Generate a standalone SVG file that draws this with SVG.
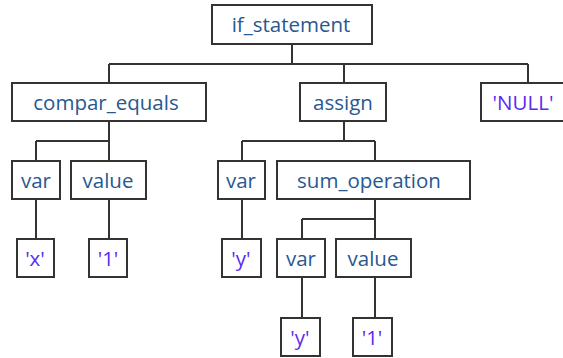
<svg xmlns="http://www.w3.org/2000/svg" width="563" height="358" viewBox="0 0 563 358">
  <style>
    .box { fill: #ffffff; stroke: #333333; stroke-width: 2; }
    .wire { fill: none; stroke: #333333; stroke-width: 2; }
    .lbl { font-family: "Open Sans", "Noto Sans", "DejaVu Sans", sans-serif; font-size: 20.5px; text-anchor: middle; fill: #285890; }
    .lit { fill: #5b2bf0; }
  </style>
  <rect x="0" y="0" width="563" height="358" fill="#ffffff"/>

  <!-- tree edges -->
  <g id="connectors">
    <path class="wire" d="M292,44 V64 M109,64 H528 M109,64 V83 M344,64 V83 M528,64 V83"/>
    <path class="wire" d="M109,121 V141 M36,141 H109 M36,141 V161 M109,141 V161"/>
    <path class="wire" d="M344,121 V141 M242,141 H375 M242,141 V161 M375,141 V161"/>
    <path class="wire" d="M36,199 V239 M109,199 V239 M242,199 V239"/>
    <path class="wire" d="M375,199 V219 M302,219 H375 M302,219 V239 M375,219 V239"/>
    <path class="wire" d="M302,277 V318 M375,277 V318"/>
  </g>

  <!-- level 0 -->
  <g id="if_statement">
    <rect class="box" x="212" y="5" width="160" height="39"/>
    <text class="lbl" x="291" y="32">if_statement</text>
  </g>

  <!-- level 1 -->
  <g id="compar_equals">
    <rect class="box" x="12" y="83" width="194" height="38"/>
    <text class="lbl" x="106" y="110">compar_equals</text>
  </g>
  <g id="assign">
    <rect class="box" x="300" y="83" width="86" height="38"/>
    <text class="lbl" x="343" y="110">assign</text>
  </g>
  <g id="null_literal">
    <rect class="box" x="481" y="83" width="94" height="38"/>
    <text class="lbl lit" x="523" y="110">'NULL'</text>
  </g>

  <!-- level 2 -->
  <g id="var_left">
    <rect class="box" x="12" y="161" width="48" height="38"/>
    <text class="lbl" x="36" y="188">var</text>
  </g>
  <g id="value_left">
    <rect class="box" x="71" y="161" width="75" height="38"/>
    <text class="lbl" x="108" y="188">value</text>
  </g>
  <g id="var_assign">
    <rect class="box" x="218" y="161" width="47" height="38"/>
    <text class="lbl" x="241" y="188">var</text>
  </g>
  <g id="sum_operation">
    <rect class="box" x="277" y="161" width="193" height="38"/>
    <text class="lbl" x="369" y="188">sum_operation</text>
  </g>

  <!-- level 3 -->
  <g id="lit_x">
    <rect class="box" x="17" y="239" width="37" height="38"/>
    <text class="lbl lit" x="35" y="266">'x'</text>
  </g>
  <g id="lit_1_left">
    <rect class="box" x="89" y="239" width="38" height="38"/>
    <text class="lbl lit" x="108" y="266">'1'</text>
  </g>
  <g id="lit_y_assign">
    <rect class="box" x="222" y="239" width="39" height="38"/>
    <text class="lbl lit" x="241" y="266">'y'</text>
  </g>
  <g id="var_sum">
    <rect class="box" x="277" y="239" width="48" height="38"/>
    <text class="lbl" x="301" y="266">var</text>
  </g>
  <g id="value_sum">
    <rect class="box" x="336" y="239" width="75" height="38"/>
    <text class="lbl" x="373" y="266">value</text>
  </g>

  <!-- level 4 -->
  <g id="lit_y_sum">
    <rect class="box" x="281" y="318" width="39" height="38"/>
    <text class="lbl lit" x="300" y="345">'y'</text>
  </g>
  <g id="lit_1_sum">
    <rect class="box" x="353" y="318" width="39" height="38"/>
    <text class="lbl lit" x="372" y="345">'1'</text>
  </g>
</svg>
